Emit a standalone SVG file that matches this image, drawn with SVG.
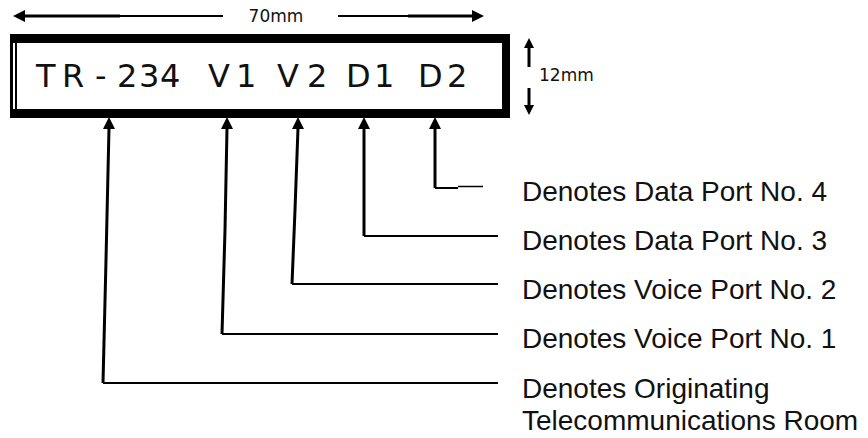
<svg xmlns="http://www.w3.org/2000/svg" width="868" height="438" viewBox="0 0 868 438">
  <style>
    .lbl { font-family: "Liberation Sans", Arial, sans-serif; font-size: 28px; fill: #111; }
    .code { font-family: "DejaVu Sans", Verdana, sans-serif; font-size: 32px; fill: #111; }
    .dim { font-family: "DejaVu Sans", Verdana, sans-serif; font-size: 17px; fill: #111; }
    .ln { fill: none; stroke: #000; stroke-linejoin: miter; }
    .v { stroke-width: 3; }
    .h { stroke-width: 2; }
    .ah { fill: #000; }
  </style>

  <rect width="868" height="438" fill="#fff"/>

  <!-- dimension 70mm -->
  <g id="dim-width">
    <line class="ln" x1="20" y1="16" x2="223" y2="16" stroke-width="2"/>
    <line class="ln" x1="20" y1="16" x2="120" y2="16" stroke-width="3"/>
    <polygon class="ah" points="13,16 25,10 25,22"/>
    <line class="ln" x1="338" y1="16" x2="476" y2="16" stroke-width="2"/>
    <line class="ln" x1="408" y1="16" x2="476" y2="16" stroke-width="3"/>
    <polygon class="ah" points="484,16 472,10 472,22"/>
    <text class="dim" x="276" y="22" text-anchor="middle">70mm</text>
  </g>

  <!-- dimension 12mm -->
  <g id="dim-height">
    <line class="ln" x1="529" y1="46" x2="529" y2="67" stroke-width="3"/>
    <polygon class="ah" points="529,38 524,48 534,48"/>
    <line class="ln" x1="529" y1="88" x2="529" y2="107" stroke-width="3"/>
    <polygon class="ah" points="529,115 524,105 534,105"/>
    <text class="dim" x="539" y="81">12mm</text>
  </g>

  <!-- label plate -->
  <g id="plate">
    <rect x="10" y="34" width="500" height="84" fill="#000"/>
    <rect x="17" y="43" width="485" height="66" fill="#fff"/>
    <rect x="13" y="43" width="2" height="66" fill="#fff"/>
    <text class="code" y="87" x="36 62 95 117 139 160 185 208 236 255 277 307 330 346 374 395 418 447">TR-234 V1 V2 D1 D2</text>
  </g>

  <!-- connectors -->
  <g id="connectors">
    <polygon class="ah" points="109,117 103,129 115,129"/>
    <polyline class="ln v" points="109,128 106,260 103,383"/>
    <line class="ln h" x1="103" y1="383" x2="498" y2="383"/>

    <polygon class="ah" points="227,117 221,129 233,129"/>
    <polyline class="ln v" points="227,128 225,230 222,334"/>
    <line class="ln h" x1="222" y1="334" x2="498" y2="334"/>

    <polygon class="ah" points="298,117 292,129 304,129"/>
    <polyline class="ln v" points="298,128 295,210 292,284"/>
    <line class="ln h" x1="292" y1="284" x2="498" y2="284"/>

    <polygon class="ah" points="364,117 358,129 370,129"/>
    <line class="ln v" x1="364" y1="128" x2="364" y2="236"/>
    <line class="ln h" x1="364" y1="236" x2="498" y2="236"/>

    <polygon class="ah" points="435,117 429,129 441,129"/>
    <line class="ln v" x1="435" y1="128" x2="435" y2="188"/>
    <line class="ln h" x1="435" y1="188" x2="458" y2="188"/>
    <line class="ln" x1="458" y1="186.5" x2="483" y2="186.5" stroke-width="1.5"/>
  </g>

  <!-- legend labels -->
  <g id="label-d2"><text class="lbl" x="522" y="201">Denotes Data Port No. 4</text></g>
  <g id="label-d1"><text class="lbl" x="522" y="250">Denotes Data Port No. 3</text></g>
  <g id="label-v2"><text class="lbl" x="522" y="299">Denotes Voice Port No. 2</text></g>
  <g id="label-v1"><text class="lbl" x="522" y="348">Denotes Voice Port No. 1</text></g>
  <g id="label-tr"><text class="lbl" x="522" y="398">Denotes Originating</text><text class="lbl" x="522" y="430">Telecommunications Room</text></g>
</svg>
